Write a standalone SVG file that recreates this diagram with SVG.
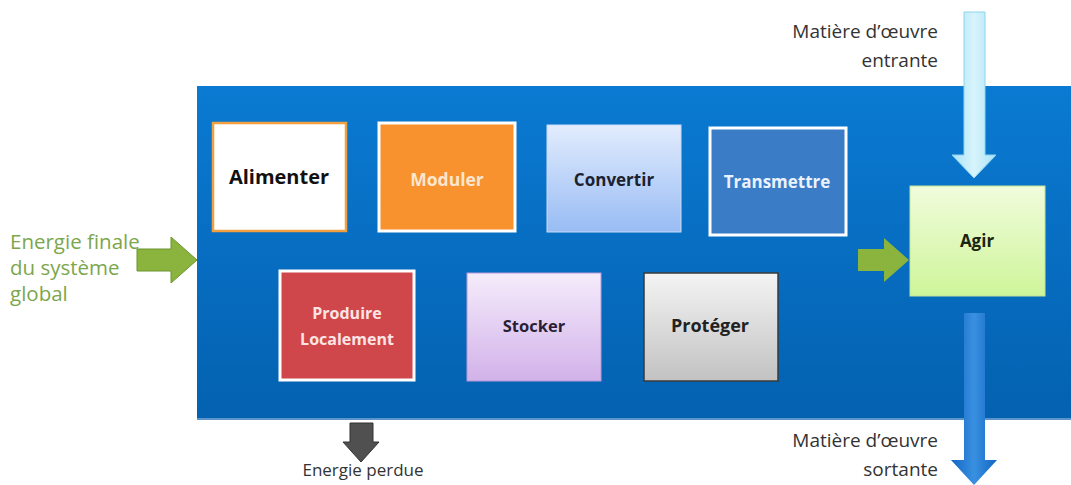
<svg xmlns="http://www.w3.org/2000/svg" width="1071" height="485" viewBox="0 0 1071 485">
<defs>
<linearGradient id="gPanel" x1="0" y1="0" x2="0" y2="1"><stop offset="0" stop-color="#0a7ad2"/><stop offset="1" stop-color="#0461b0"/></linearGradient>
<linearGradient id="gConv" x1="0" y1="0" x2="0" y2="1"><stop offset="0" stop-color="#e2ecfd"/><stop offset="1" stop-color="#98bcf4"/></linearGradient>
<linearGradient id="gAgir" x1="0" y1="0" x2="0" y2="1"><stop offset="0" stop-color="#f1fcdc"/><stop offset="1" stop-color="#cef59a"/></linearGradient>
<linearGradient id="gStock" x1="0" y1="0" x2="0" y2="1"><stop offset="0" stop-color="#f5ecfb"/><stop offset="1" stop-color="#d2b2ea"/></linearGradient>
<linearGradient id="gProt" x1="0" y1="0" x2="0" y2="1"><stop offset="0" stop-color="#f4f4f4"/><stop offset="1" stop-color="#c2c2c2"/></linearGradient>
<linearGradient id="gIn" x1="0" y1="0" x2="1" y2="0"><stop offset="0" stop-color="#a9e3f7"/><stop offset="0.5" stop-color="#d8f4fc"/><stop offset="1" stop-color="#a9e3f7"/></linearGradient>
<linearGradient id="gOut" x1="0" y1="0" x2="1" y2="0"><stop offset="0" stop-color="#1166c4"/><stop offset="0.5" stop-color="#3a90e0"/><stop offset="1" stop-color="#1166c4"/></linearGradient>
</defs>
<style>
.lbl{font-family:"Open Sans","Liberation Sans",sans-serif;font-weight:bold;font-size:16.5px;text-anchor:middle}
.cap{font-family:"Open Sans","Liberation Sans",sans-serif;font-size:19px;fill:#333}
.green{font-family:"Open Sans","Liberation Sans",sans-serif;font-size:20.5px;fill:#7ba64c}
</style>
<rect x="197" y="86" width="874" height="334" fill="url(#gPanel)"/>
<line x1="197" y1="419" x2="1071" y2="419" stroke="#5b95c9" stroke-width="2"/>
<g id="connectors">
<polygon points="137,249 171,249 171,237 197,260 171,283 171,271 137,271" fill="#8ab43e" stroke="#6c9430" stroke-width="1"/>
<polygon points="858,249 884,249 884,238 909,260 884,282 884,271 858,271" fill="#8ab43e"/>
<polygon points="964,12 985,12 985,155 996,155 974,178 952,155 964,155" fill="url(#gIn)" stroke="#8ed4ee" stroke-width="1"/>
<polygon points="964,313 985,313 985,460 997,460 974,485 951,460 964,460" fill="url(#gOut)"/>
<polygon points="350,423 373,423 373,442 379,442 361,462 343,442 350,442" fill="#505050" stroke="#333" stroke-width="1"/>
</g>
<g id="alimenter"><rect x="213" y="123" width="133" height="108" fill="#fff" stroke="#f0a040" stroke-width="2.5"/><text class="lbl" x="279" y="184" style="font-size:20px" fill="#111">Alimenter</text></g>
<g id="moduler"><rect x="379" y="123" width="136" height="108" fill="#f7922f" stroke="#fff" stroke-width="3"/><text class="lbl" x="447" y="186" style="font-size:17.5px" fill="#fbe6cf">Moduler</text></g>
<g id="convertir"><rect x="547" y="125" width="134" height="107" fill="url(#gConv)" stroke="#c9dbf7" stroke-width="1"/><text class="lbl" x="614" y="186" style="font-size:17px" fill="#1c2230">Convertir</text></g>
<g id="transmettre"><rect x="710" y="128" width="136" height="107" fill="#3a7cc6" stroke="#fff" stroke-width="3"/><text class="lbl" x="777" y="188" style="font-size:17px" fill="#eaf2ff">Transmettre</text></g>
<g id="agir"><rect x="910" y="186" width="135" height="110" fill="url(#gAgir)" stroke="#bfe39a" stroke-width="1"/><text class="lbl" x="977" y="247" style="font-size:17px" fill="#1a2410">Agir</text></g>
<g id="produire"><rect x="280" y="271" width="134" height="109" fill="#d0474b" stroke="#fff" stroke-width="3"/><text class="lbl" x="347" y="319" style="font-size:16px" fill="#fbe4e4">Produire</text><text class="lbl" x="347" y="345" style="font-size:16px" fill="#fbe4e4">Localement</text></g>
<g id="stocker"><rect x="467" y="273" width="134" height="108" fill="url(#gStock)" stroke="#b79ad6" stroke-width="1"/><text class="lbl" x="534" y="332" fill="#2a1e34">Stocker</text></g>
<g id="proteger"><rect x="644" y="273" width="134" height="108" fill="url(#gProt)" stroke="#3a3a3a" stroke-width="1.5"/><text class="lbl" x="710" y="332" style="font-size:18px" fill="#222">Protéger</text></g>
<g id="labels">
<text class="cap" x="938" y="38" text-anchor="end">Matière d’œuvre</text>
<text class="cap" x="938" y="67" text-anchor="end">entrante</text>
<text class="green" x="10" y="249">Energie finale</text>
<text class="green" x="10" y="275">du système</text>
<text class="green" x="10" y="301">global</text>
<text class="cap" x="363" y="476" text-anchor="middle" style="font-size:17px">Energie perdue</text>
<text class="cap" x="938" y="447" text-anchor="end">Matière d’œuvre</text>
<text class="cap" x="938" y="476" text-anchor="end">sortante</text>
</g>
</svg>
